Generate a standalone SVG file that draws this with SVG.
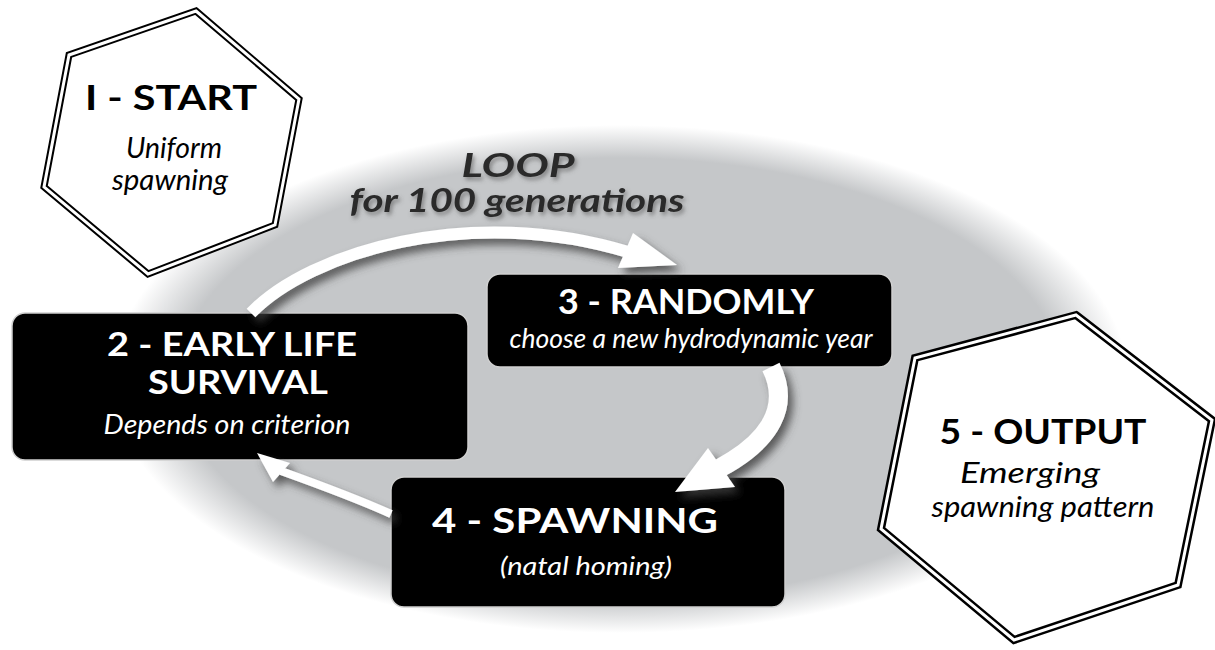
<svg xmlns="http://www.w3.org/2000/svg" width="1215" height="650" viewBox="0 0 1215 650">
  <defs>
    <radialGradient id="bg" cx="0.5" cy="0.5" r="0.5">
      <stop offset="0" stop-color="#c5c7c9"/>
      <stop offset="0.87" stop-color="#c5c7c9"/>
      <stop offset="1" stop-color="#ffffff"/>
    </radialGradient>
    <filter id="sh" x="-20%" y="-20%" width="150%" height="160%">
      <feDropShadow dx="5" dy="6" stdDeviation="4" flood-color="#3c3c3c" flood-opacity="0.8"/>
    </filter>
    <filter id="tsh" x="-10%" y="-30%" width="130%" height="170%">
      <feDropShadow dx="2" dy="3" stdDeviation="2" flood-color="#555" flood-opacity="0.6"/>
    </filter>
  </defs>
  <style>
    .hexo { fill: #fff; stroke: #000; stroke-linejoin: miter; }
    .hexi { fill: none; stroke: #fff; stroke-linejoin: miter; }
    .box { fill: #000; stroke: #d0d0d0; stroke-width: 1.5; }
    .tb { font-family: Lato, "Open Sans", sans-serif; font-weight: bold; text-anchor: middle; }
    .ti { font-family: Lato, "Open Sans", sans-serif; font-style: italic; text-anchor: middle; }
    .w { fill: #fff; }
    .k { fill: #000; }
    .arr { fill: none; stroke: #fff; stroke-linecap: butt; }
    .head { fill: #fff; }
  </style>

  <ellipse cx="620" cy="379" rx="508" ry="254" fill="url(#bg)"/>

  <g id="node1">
    <polygon class="hexo" stroke-width="7" points="196,11 299,99 275,225 148,274 44,187 69,55"/>
    <polygon class="hexi" stroke-width="3" points="196,11 299,99 275,225 148,274 44,187 69,55"/>
    <text class="tb k" x="171" y="110" font-size="35" textLength="172" lengthAdjust="spacingAndGlyphs">I -  START</text>
    <text class="ti k" x="174" y="158" font-size="28" textLength="96" lengthAdjust="spacingAndGlyphs">Uniform</text>
    <text class="ti k" x="170" y="190" font-size="28" textLength="116" lengthAdjust="spacingAndGlyphs">spawning</text>
  </g>

  <g id="loop-label" filter="url(#tsh)">
    <text class="tb" fill="#2b2b2b" font-style="italic" x="518" y="177" font-size="32" textLength="113" lengthAdjust="spacingAndGlyphs">LOOP</text>
    <text class="tb" fill="#2b2b2b" font-style="italic" x="517" y="212" font-size="32" textLength="335" lengthAdjust="spacingAndGlyphs">for 100 generations</text>
  </g>

  <g id="node2">
    <rect class="box" x="12" y="313" width="456" height="147" rx="13"/>
    <text class="tb w" x="232" y="356" font-size="33" textLength="250" lengthAdjust="spacingAndGlyphs">2 - EARLY LIFE</text>
    <text class="tb w" x="238" y="394" font-size="32" textLength="180" lengthAdjust="spacingAndGlyphs">SURVIVAL</text>
    <text class="ti w" x="227" y="434" font-size="27" textLength="247" lengthAdjust="spacingAndGlyphs">Depends on criterion</text>
  </g>

  <g id="node4">
    <rect class="box" x="391" y="477" width="394" height="130" rx="13"/>
    <text class="tb w" x="575" y="533" font-size="34" textLength="286" lengthAdjust="spacingAndGlyphs">4 - SPAWNING</text>
    <text class="ti w" x="586" y="575" font-size="26" textLength="172" lengthAdjust="spacingAndGlyphs">(natal homing)</text>
  </g>

  <g id="node3">
    <rect class="box" x="487" y="274" width="405" height="93" rx="13"/>
    <text class="tb w" x="686" y="314" font-size="34" textLength="256" lengthAdjust="spacingAndGlyphs">3 - RANDOMLY</text>
    <text class="ti w" x="691" y="348" font-size="27" textLength="363" lengthAdjust="spacingAndGlyphs">choose a new hydrodynamic year</text>
  </g>

  <g id="node5">
    <polygon class="hexo" stroke-width="8" points="1076,315 1212,420 1178,585 1014,640 881,529 915,358"/>
    <polygon class="hexi" stroke-width="3" points="1076,315 1212,420 1178,585 1014,640 881,529 915,358"/>
    <text class="tb k" x="1043" y="444" font-size="34" textLength="207" lengthAdjust="spacingAndGlyphs">5 - OUTPUT</text>
    <text class="ti k" x="1030" y="483" font-size="28" textLength="140" lengthAdjust="spacingAndGlyphs">Emerging</text>
    <text class="ti k" x="1043" y="517" font-size="28" textLength="223" lengthAdjust="spacingAndGlyphs">spawning pattern</text>
  </g>

  <g id="connectors">
    <g filter="url(#sh)">
      <path class="arr" stroke-width="12" d="M 251 313 C 310 252 470 204 628 252"/>
      <polygon class="head" points="633,233 677,265 618,268"/>
    </g>
    <g filter="url(#sh)">
      <path class="arr" stroke-width="19" d="M 771 367 C 790 405 772 440 720 468"/>
      <polygon class="head" points="708,448 735,487 675,492"/>
    </g>
    <g filter="url(#sh)">
      <path class="arr" stroke-width="8" d="M 391 514 C 360 500 320 485 281 471"/>
      <polygon class="head" points="257,453 290,463 273,482"/>
    </g>
  </g>
</svg>
